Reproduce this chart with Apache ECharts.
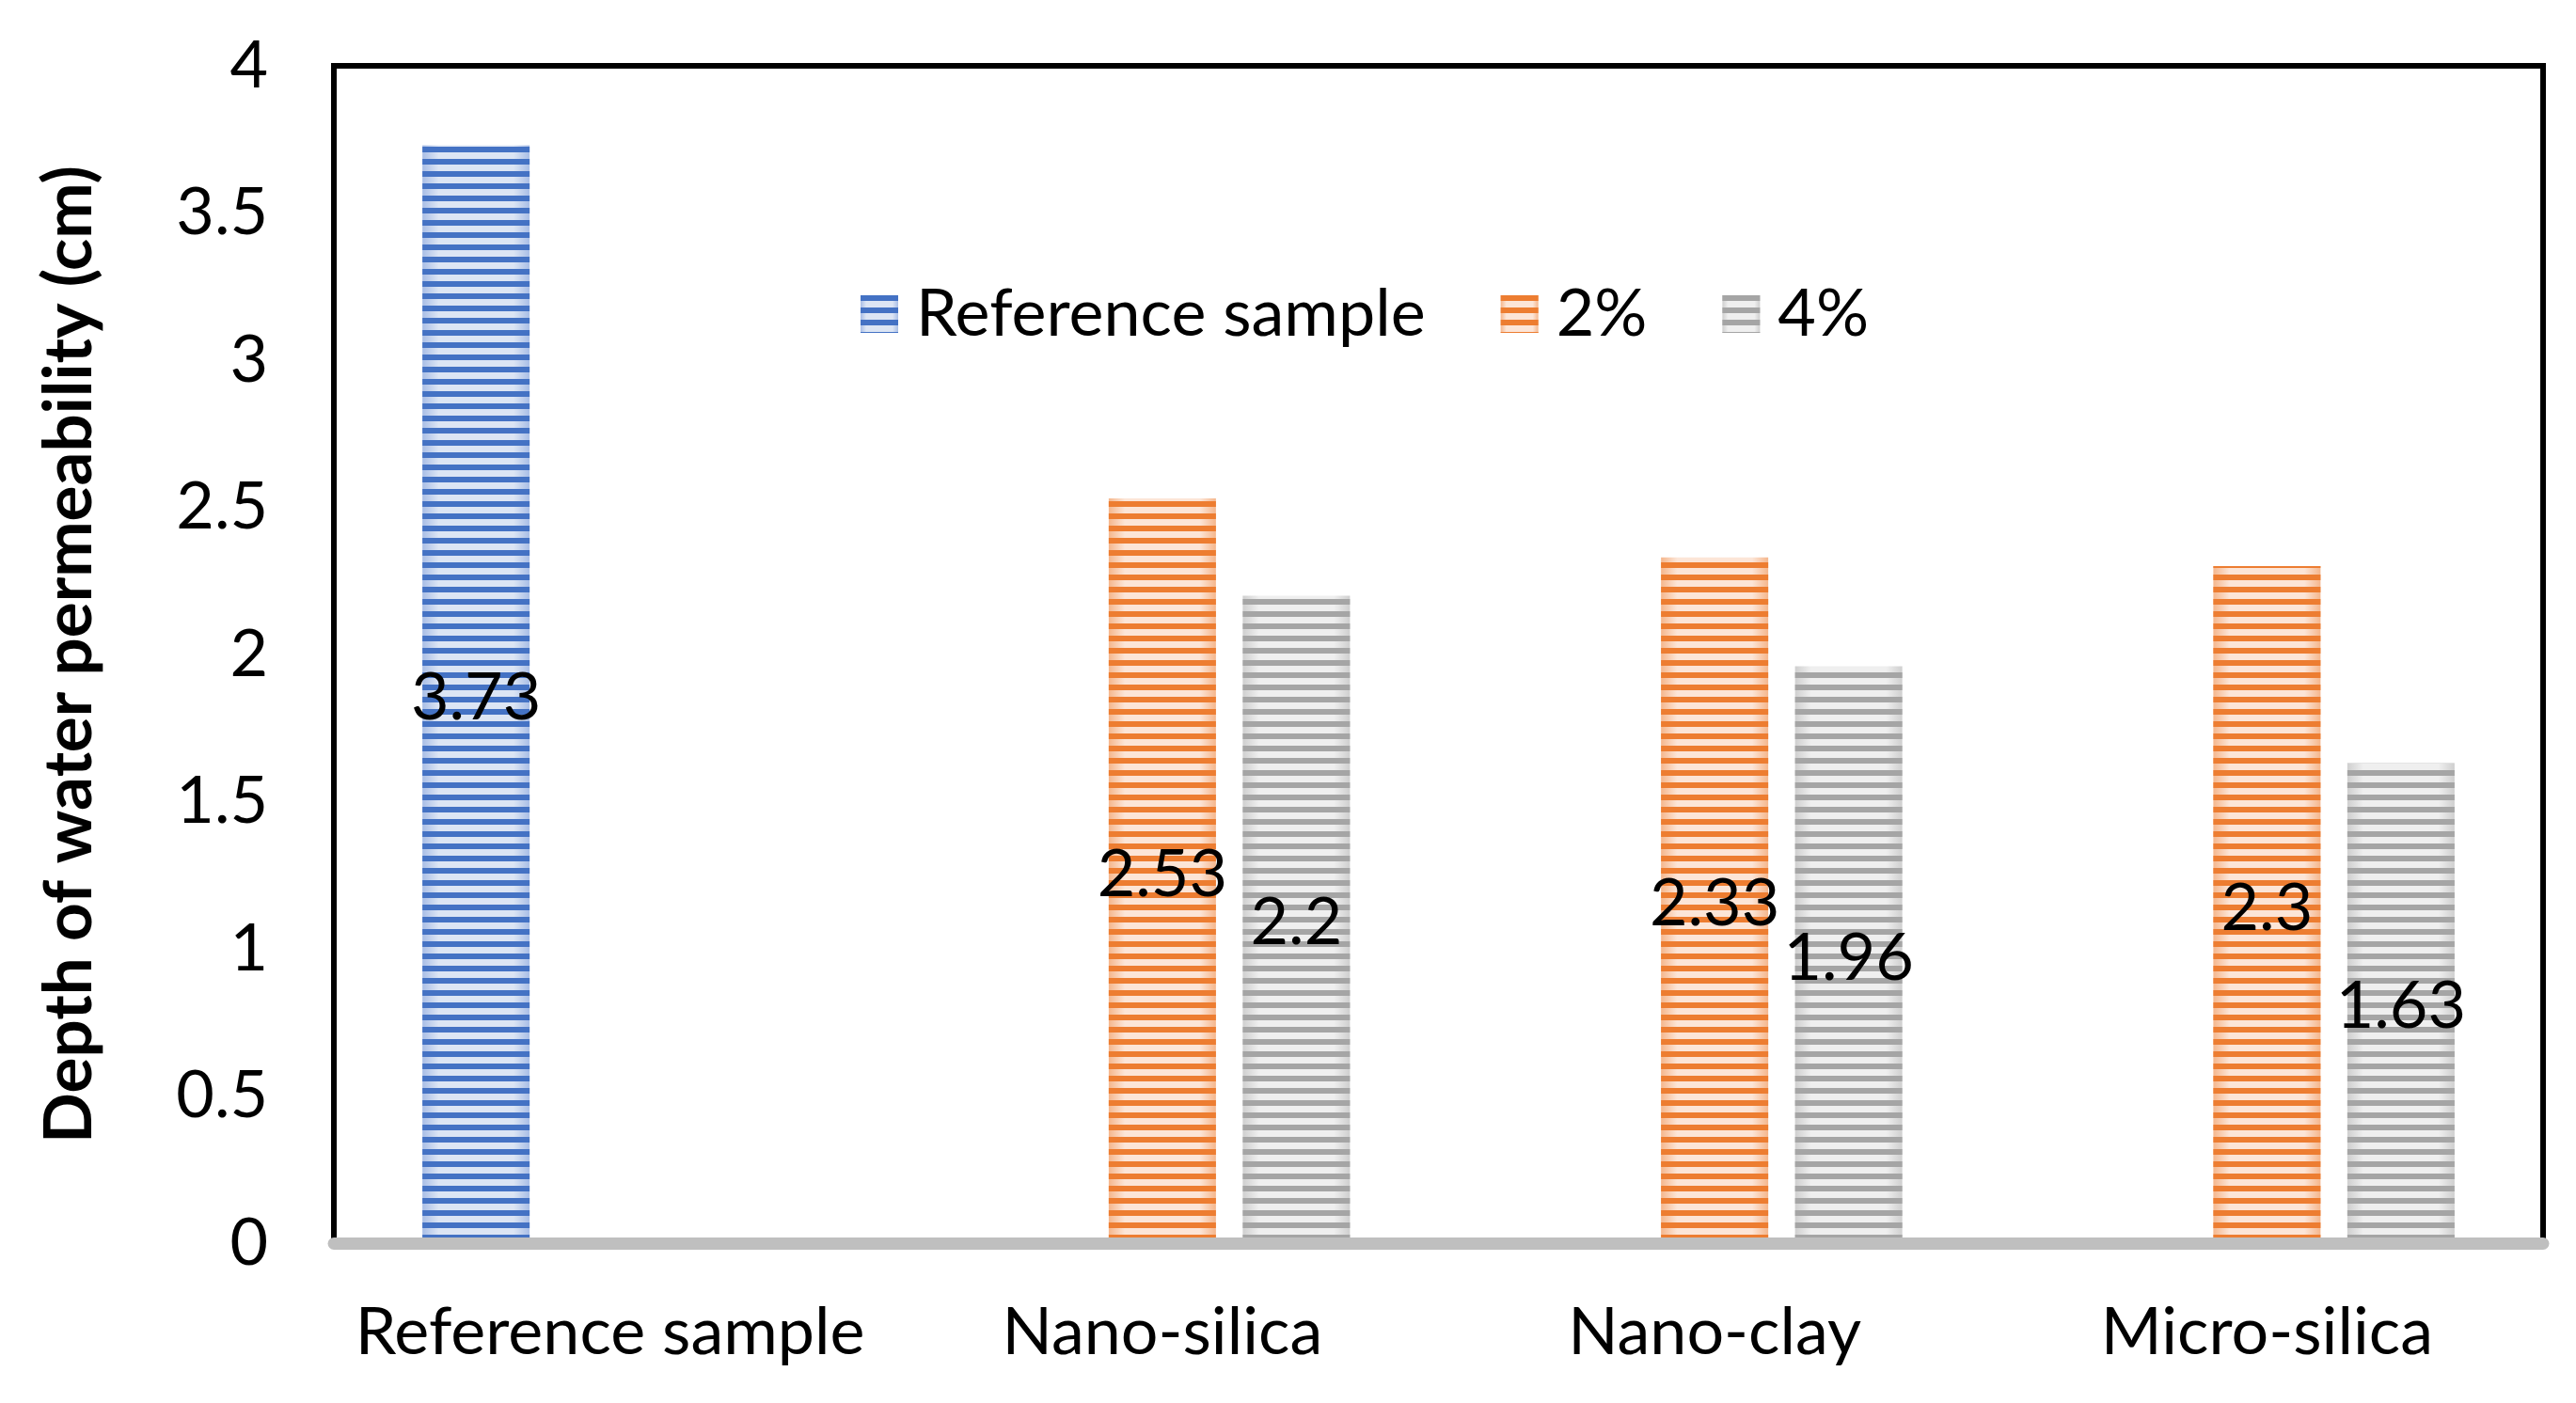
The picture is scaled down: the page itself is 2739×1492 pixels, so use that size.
<!DOCTYPE html>
<html>
<head>
<meta charset="utf-8">
<script src="https://cdn.jsdelivr.net/npm/echarts@6/dist/echarts.min.js"></script>
<style>
html,body{margin:0;padding:0;background:#fff;}
#chart{width:2739px;height:1492px;}
</style>
</head>
<body>
<div id="chart"></div>
<script>
const categories = ['Reference sample', 'Nano-silica', 'Nano-clay', 'Micro-silica'];
const seriesNames = ['Reference sample', '2%', '4%'];
const referenceValues = [3.73, null, null, null];
const pct2Values = [null, 2.53, 2.33, 2.3];
const pct4Values = [null, 2.2, 1.96, 1.63];
const yTicks = { min: 0, max: 4, interval: 0.5 };

const FONT = 'Lato';
const FS = 70;

function fill(edge, center) {
  return {
    type: 'linear', x: 0, y: 0, x2: 1, y2: 0,
    colorStops: [
      { offset: 0, color: edge },
      { offset: 0.15, color: center },
      { offset: 0.85, color: center },
      { offset: 1, color: edge }
    ]
  };
}
function decal(c) {
  return { symbol: 'rect', symbolSize: 1, dashArrayX: [1, 0], dashArrayY: [6, 7], rotation: 0, color: c };
}
const styles = [
  { dark: '#4472C4', edge: '#A9BEE6', center: '#DCE5F4' },
  { dark: '#ED7D31', edge: '#F5B68C', center: '#FCE5D7' },
  { dark: '#A5A5A5', edge: '#CFCFCF', center: '#EFEFEF' }
];
const dataSets = [referenceValues, pct2Values, pct4Values];

const chart = echarts.init(document.getElementById('chart'));
chart.setOption({
  animation: false,
  backgroundColor: '#fff',
  textStyle: { fontFamily: FONT },
  grid: {
    left: 355, right: 35, top: 70, bottom: 170,
    show: true, borderColor: '#000', borderWidth: 6, backgroundColor: 'transparent',
    outerBoundsMode: 'none'
  },
  legend: {
    left: 910, top: 294,
    icon: 'rect', itemWidth: 40, itemHeight: 40, itemGap: 80,
    data: seriesNames,
    textStyle: { fontFamily: FONT, fontSize: FS, color: '#000', padding: [0, 0, 0, 14] }
  },
  xAxis: {
    type: 'category', data: categories, z: 3,
    axisLine: { show: true, lineStyle: { color: '#BFBFBF', width: 13 } },
    axisTick: { show: false },
    axisLabel: { fontFamily: FONT, fontSize: FS, color: '#000', margin: 60, interval: 0 },
    splitLine: { show: false }
  },
  yAxis: {
    type: 'value', min: yTicks.min, max: yTicks.max, interval: yTicks.interval,
    name: 'Depth of water permeability (cm)',
    nameLocation: 'middle', nameGap: 245, nameRotate: 90,
    nameTextStyle: { fontFamily: FONT, fontSize: 71, fontWeight: 'bold', color: '#000' },
    axisLine: { show: false }, axisTick: { show: false },
    splitLine: { show: false },
    axisLabel: { fontFamily: FONT, fontSize: FS, color: '#000', margin: 70 }
  },
  series: dataSets.map((d, i) => ({
    name: seriesNames[i], type: 'bar', data: d,
    barWidth: 114, barGap: '25%',
    itemStyle: { color: fill(styles[i].edge, styles[i].center), decal: decal(styles[i].dark) },
    label: {
      show: true, position: 'inside', color: '#000', fontFamily: FONT, fontSize: FS,
      textBorderWidth: 0, textShadowBlur: 0, offset: [0, 4]
    }
  }))
});
</script>
</body>
</html>
